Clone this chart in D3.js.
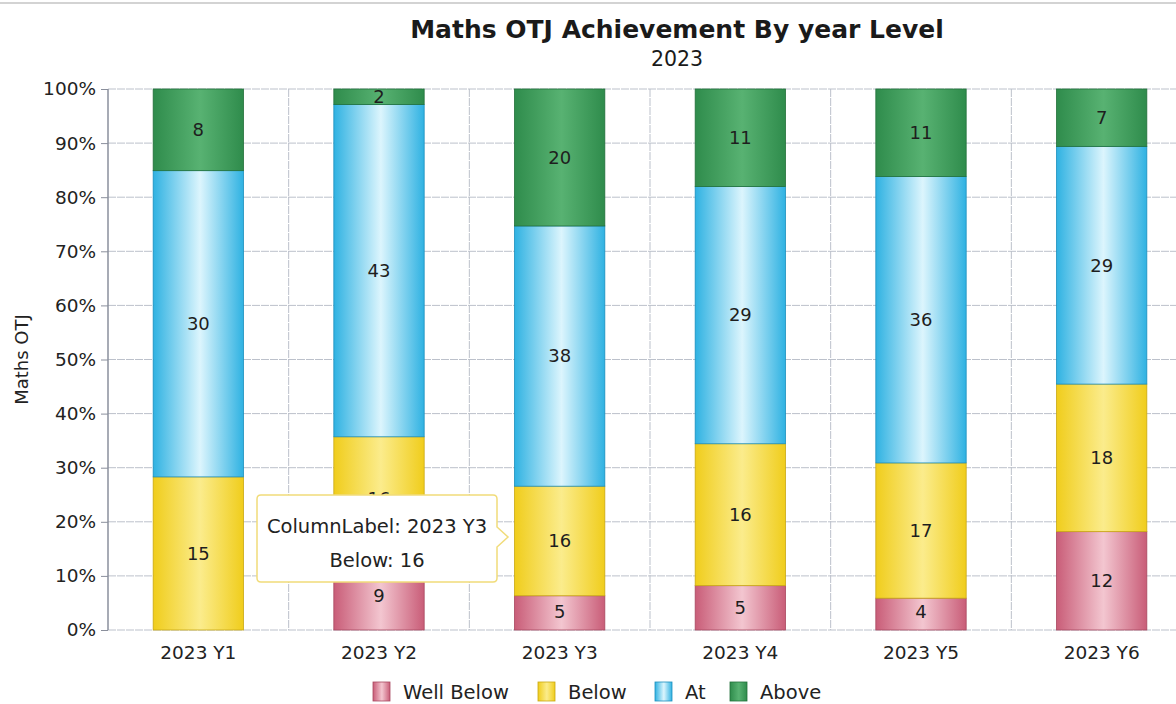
<!DOCTYPE html>
<html>
<head>
<meta charset="utf-8">
<script src="https://cdn.jsdelivr.net/npm/d3@7"></script>
<style>
  body { margin: 0; background: #fff; }
  svg { display: block; font-family: "DejaVu Sans", Verdana, sans-serif; }
</style>
</head>
<body>
<script>
var columns = ['2023 Y1', '2023 Y2', '2023 Y3', '2023 Y4', '2023 Y5', '2023 Y6'];
var seriesNames = ['Well Below', 'Below', 'At', 'Above'];
var wellBelow = [0, 9, 5, 5, 4, 12];
var below = [15, 16, 16, 16, 17, 18];
var at = [30, 43, 38, 29, 36, 29];
var above = [8, 2, 20, 11, 11, 7];
var yTicks = [0, 0.1, 0.2, 0.3, 0.4, 0.5, 0.6, 0.7, 0.8, 0.9, 1];

var palette = {
    'Well Below': {edge: '#c95d78', mid: '#f3c6d0', line: '#a8485f'},
    'Below': {edge: '#f0cd1c', mid: '#fbec8c', line: '#c9a812'},
    'At': {edge: '#2fb2e2', mid: '#dcf5fd', line: '#1c8fbd'},
    'Above': {edge: '#2f8c4c', mid: '#58b272', line: '#22703a'}
};

window.document.addEventListener('DOMContentLoaded', init, false);

function init() {
    var width = 1176, height = 704;
    var margin = {left: 108, right: -16, top: 89, bottom: 74};

    var svg = d3.select('body').append('svg')
        .attr('width', width)
        .attr('height', height);

    createGradients(svg);

    svg.append('line')
        .attr('x1', 0).attr('x2', width)
        .attr('y1', 3).attr('y2', 3)
        .attr('stroke', '#c4c4c4').attr('stroke-width', 1.5);

    var x = d3.scaleBand()
        .domain(columns)
        .range([margin.left, width - margin.right])
        .paddingInner(0.5)
        .paddingOuter(0.25);

    var y = d3.scaleLinear()
        .domain([0, 1])
        .range([height - margin.bottom, margin.top]);

    drawGrid(svg, x, y);
    drawBars(svg, x, y);
    drawAxes(svg, x, y);
    drawTitles(svg, y);
    drawLegend(svg);
    drawTooltip(svg);
}

function createGradients(svg) {
    var defs = svg.append('defs');
    seriesNames.forEach((name, i) => {
        var p = palette[name];
        var g = defs.append('linearGradient')
            .attr('id', 'grad' + i)
            .attr('x1', 0).attr('x2', 1).attr('y1', 0).attr('y2', 0);
        g.append('stop').attr('offset', '0%').attr('stop-color', p.edge);
        g.append('stop').attr('offset', '52%').attr('stop-color', p.mid);
        g.append('stop').attr('offset', '100%').attr('stop-color', p.edge);
    });
}

function drawGrid(svg, x, y) {
    var grid = svg.append('g');
    var step = x.step();
    var left = x.range()[0];

    grid.selectAll('.hgrid')
        .data(yTicks)
        .enter()
            .append('line')
            .attr('x1', left).attr('x2', x.range()[1])
            .attr('y1', (d) => y(d)).attr('y2', (d) => y(d))
            .attr('stroke', '#bcc1cb')
            .attr('stroke-dasharray', '8,1')
            .attr('stroke-width', 1);

    grid.selectAll('.vgrid')
        .data(columns.map((c, i) => i))
        .enter()
            .append('line')
            .attr('x1', (d) => left + d * step).attr('x2', (d) => left + d * step)
            .attr('y1', y(1)).attr('y2', y(0))
            .attr('stroke', (d) => d === 0 ? '#8a8f9c' : '#bcc1cb')
            .attr('stroke-dasharray', (d) => d === 0 ? null : '8,1')
            .attr('stroke-width', (d) => d === 0 ? 1.5 : 1);
}

function drawBars(svg, x, y) {
    var table = columns.map((c, i) => {
        var row = {column: c};
        row['Well Below'] = wellBelow[i];
        row['Below'] = below[i];
        row['At'] = at[i];
        row['Above'] = above[i];
        return row;
    });

    var stacked = d3.stack()
        .keys(seriesNames)
        .offset(d3.stackOffsetExpand)(table);

    var layer = svg.selectAll('.layer')
        .data(stacked)
        .enter()
            .append('g')
            .attr('class', 'layer');

    layer.selectAll('rect')
        .data((d, i) => d.map((s) => ({s: s, i: i, key: d.key})))
        .enter()
            .append('rect')
            .attr('x', (d) => x(d.s.data.column))
            .attr('width', x.bandwidth())
            .attr('y', (d) => y(d.s[1]))
            .attr('height', (d) => y(d.s[0]) - y(d.s[1]))
            .attr('fill', (d) => `url(#grad${d.i})`)
            .attr('stroke', (d) => palette[d.key].line)
            .attr('stroke-width', 0.8);

    layer.selectAll('text')
        .data((d) => d.map((s) => ({s: s, key: d.key})))
        .enter()
            .append('text')
            .attr('x', (d) => x(d.s.data.column) + x.bandwidth() / 2)
            .attr('y', (d) => Math.min((y(d.s[0]) + y(d.s[1])) / 2, y(0) - 18))
            .attr('dy', '.35em')
            .attr('text-anchor', 'middle')
            .attr('font-size', 18)
            .attr('fill', '#1e1e1e')
            .text((d) => d.s.data[d.key]);
}

function drawAxes(svg, x, y) {
    var left = x.range()[0];

    var yAxis = svg.append('g')
        .attr('transform', `translate(${left},0)`)
        .call(d3.axisLeft(y).tickValues(yTicks).tickSize(7).tickPadding(5)
            .tickFormat(d3.format('.0%')));
    yAxis.select('.domain').remove();
    yAxis.selectAll('line').attr('stroke', '#8a8f9c');
    yAxis.selectAll('text')
        .attr('font-size', 18.5)
        .attr('fill', '#222')
        .attr('font-family', '"DejaVu Sans", Verdana, sans-serif');

    var xAxis = svg.append('g')
        .attr('transform', `translate(0,${y(0)})`)
        .call(d3.axisBottom(x).tickSize(0).tickPadding(16));
    xAxis.select('.domain').remove();
    xAxis.selectAll('text')
        .attr('font-size', 18.5)
        .attr('fill', '#222')
        .attr('font-family', '"DejaVu Sans", Verdana, sans-serif');

    svg.append('text')
        .attr('transform', `translate(28,${(y(0) + y(1)) / 2}) rotate(-90)`)
        .attr('text-anchor', 'middle')
        .attr('font-size', 18)
        .attr('fill', '#222')
        .text('Maths OTJ');
}

function drawTitles(svg, y) {
    svg.append('text')
        .attr('x', 677).attr('y', 38)
        .attr('text-anchor', 'middle')
        .attr('font-size', 25)
        .attr('font-weight', 'bold')
        .attr('fill', '#1a1a1a')
        .text('Maths OTJ Achievement By year Level');

    svg.append('text')
        .attr('x', 677).attr('y', 66)
        .attr('text-anchor', 'middle')
        .attr('font-size', 20.5)
        .attr('fill', '#1a1a1a')
        .text('2023');
}

function drawLegend(svg) {
    var xs = [373, 538, 655, 730];
    var item = svg.selectAll('.legend')
        .data(seriesNames)
        .enter()
            .append('g')
            .attr('class', 'legend')
            .attr('transform', (d, i) => `translate(${xs[i]},682)`);

    item.append('rect')
        .attr('width', 17).attr('height', 19)
        .attr('fill', (d, i) => `url(#grad${i})`)
        .attr('stroke', (d) => palette[d].line)
        .attr('stroke-width', 0.8);

    item.append('text')
        .attr('x', 30).attr('y', 10)
        .attr('dy', '.35em')
        .attr('font-size', 19.5)
        .attr('fill', '#222')
        .text((d) => d);
}

function drawTooltip(svg) {
    var tip = svg.append('g');
    var x0 = 257, y0 = 495, x1 = 497, y1 = 582, r = 4;
    var path = `M${x0 + r},${y0} H${x1 - r} Q${x1},${y0} ${x1},${y0 + r}`
        + ` V527 L508,537 L${x1},547 V${y1 - r} Q${x1},${y1} ${x1 - r},${y1}`
        + ` H${x0 + r} Q${x0},${y1} ${x0},${y1 - r} V${y0 + r} Q${x0},${y0} ${x0 + r},${y0} Z`;

    tip.append('path')
        .attr('d', path)
        .attr('fill', '#fff')
        .attr('stroke', '#f1dc7a')
        .attr('stroke-width', 1.5);

    tip.append('text')
        .attr('x', (x0 + x1) / 2).attr('y', 533)
        .attr('text-anchor', 'middle')
        .attr('font-size', 19.5)
        .attr('fill', '#222')
        .text('ColumnLabel: 2023 Y3');

    tip.append('text')
        .attr('x', (x0 + x1) / 2).attr('y', 567)
        .attr('text-anchor', 'middle')
        .attr('font-size', 19.5)
        .attr('fill', '#222')
        .text('Below: 16');
}
</script>
</body>
</html>
